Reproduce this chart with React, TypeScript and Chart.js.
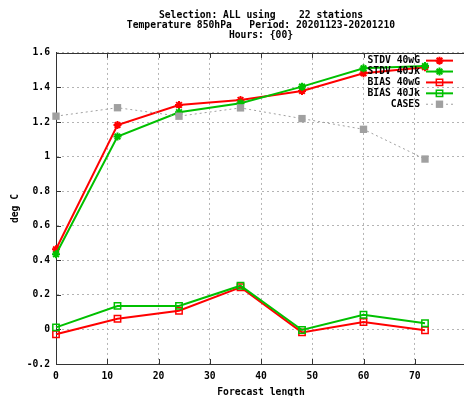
import React, { useEffect, useRef } from "react";
import { Chart, registerables } from "chart.js";
import { drawPoint } from "chart.js/helpers";

Chart.register(...registerables);

const forecastHours = [0, 12, 24, 36, 48, 60, 72];
const stdv40wG = [0.464, 1.183, 1.299, 1.328, 1.38, 1.482, 1.517];
const stdv40Jk = [0.435, 1.116, 1.257, 1.309, 1.405, 1.511, 1.524];
const bias40wG = [-0.028, 0.062, 0.108, 0.244, -0.017, 0.043, -0.005];
const bias40Jk = [0.012, 0.136, 0.136, 0.253, -0.003, 0.085, 0.036];
const cases = [1.234, 1.283, 1.234, 1.282, 1.22, 1.158, 0.986];

const seriesLabels = ["STDV 40wG", "STDV 40Jk", "BIAS 40wG", "BIAS 40Jk", "CASES"];
const titleLines = [
  "Selection: ALL using    22 stations",
  "Temperature 850hPa   Period: 20201123-20201210",
  "Hours: {00}",
];
const xTickValues = [0, 10, 20, 30, 40, 50, 60, 70];
const xTickLabels = ["0", "10", "20", "30", "40", "50", "60", "70"];
const yTickValues = [-0.2, 0, 0.2, 0.4, 0.6, 0.8, 1, 1.2, 1.4, 1.6];
const yTickLabels = ["-0.2", "0", "0.2", "0.4", "0.6", "0.8", "1", "1.2", "1.4", "1.6"];
const xAxisTitle = "Forecast length";
const yAxisTitle = "deg C";

const RED = "#ff0000";
const GREEN = "#00c000";
const GRAY = "#a0a0a0";
const GRID = "#b4b4b4";
const FAMILY = "'DejaVu Sans Mono', 'Liberation Mono', monospace";
const FSIZE = 9.7;

const toPoints = (ys: number[]) => forecastHours.map((x, i) => ({ x, y: ys[i] }));

const framePlugin = {
  id: "gnuFrame",
  beforeDatasetsDraw(chart: any) {
    const { ctx, chartArea, scales } = chart;
    const { left, right, top, bottom } = chartArea;
    const x = scales.x;
    const y = scales.y;
    ctx.save();
    ctx.strokeStyle = "#333";
    ctx.lineWidth = 1;
    ctx.setLineDash([]);
    ctx.beginPath();
    ctx.moveTo(left, Math.round(top) + 0.5);
    ctx.lineTo(right, Math.round(top) + 0.5);
    x.ticks.forEach((t: any) => {
      const px = Math.round(x.getPixelForValue(t.value)) + 0.5;
      ctx.moveTo(px, bottom);
      ctx.lineTo(px, bottom - 5);
      ctx.moveTo(px, top);
      ctx.lineTo(px, top + 5);
    });
    y.ticks.forEach((t: any) => {
      const py = Math.round(y.getPixelForValue(t.value)) + 0.5;
      ctx.moveTo(left, py);
      ctx.lineTo(left + 5, py);
    });
    ctx.stroke();
    ctx.restore();
  },
};

const keyPlugin = {
  id: "gnuKey",
  afterDatasetsDraw(chart: any) {
    const { ctx, chartArea } = chart;
    const textRight = chartArea.right - 46;
    const x1 = chartArea.right - 40;
    const x2 = chartArea.right - 13;
    const xm = (x1 + x2) / 2;
    chart.data.datasets.forEach((ds: any, i: number) => {
      const yy = chartArea.top + 7.7 + i * 10.9;
      ctx.save();
      ctx.font = `bold ${FSIZE}px ${FAMILY}`;
      ctx.fillStyle = "#000";
      ctx.textAlign = "right";
      ctx.textBaseline = "middle";
      ctx.fillText(ds.label, textRight, yy);
      ctx.strokeStyle = ds.borderColor;
      ctx.lineWidth = ds.borderWidth;
      ctx.setLineDash(ds.borderDash || []);
      ctx.beginPath();
      ctx.moveTo(x1, yy);
      ctx.lineTo(x2, yy);
      ctx.stroke();
      ctx.setLineDash([]);
      ctx.fillStyle = ds.pointBackgroundColor;
      ctx.strokeStyle = ds.pointBorderColor;
      ctx.lineWidth = ds.pointBorderWidth;
      drawPoint(
        ctx,
        {
          pointStyle: ds.pointStyle,
          rotation: 0,
          radius: ds.pointRadius,
          borderWidth: ds.pointBorderWidth,
        } as any,
        xm,
        yy
      );
      ctx.restore();
    });
  },
};

export default function App() {
  const ref = useRef<HTMLCanvasElement | null>(null);

  useEffect(() => {
    if (!ref.current) return;
    const font = { family: FAMILY, size: FSIZE, weight: "bold" as const };
    const chart = new Chart(ref.current, {
      type: "line",
      data: {
        datasets: [
          {
            label: seriesLabels[0],
            data: toPoints(stdv40wG),
            borderColor: RED,
            backgroundColor: RED,
            borderWidth: 2,
            pointStyle: "star",
            pointRadius: 4,
            pointBorderWidth: 2,
            pointBorderColor: RED,
            pointBackgroundColor: RED,
            order: 5,
            clip: false as any,
          },
          {
            label: seriesLabels[1],
            data: toPoints(stdv40Jk),
            borderColor: GREEN,
            backgroundColor: GREEN,
            borderWidth: 2,
            pointStyle: "star",
            pointRadius: 4,
            pointBorderWidth: 2,
            pointBorderColor: GREEN,
            pointBackgroundColor: GREEN,
            order: 4,
            clip: false as any,
          },
          {
            label: seriesLabels[2],
            data: toPoints(bias40wG),
            borderColor: RED,
            backgroundColor: RED,
            borderWidth: 2,
            pointStyle: "rect",
            pointRadius: 4.5,
            pointBorderWidth: 1.5,
            pointBorderColor: RED,
            pointBackgroundColor: "rgba(0,0,0,0)",
            order: 3,
            clip: false as any,
          },
          {
            label: seriesLabels[3],
            data: toPoints(bias40Jk),
            borderColor: GREEN,
            backgroundColor: GREEN,
            borderWidth: 2,
            pointStyle: "rect",
            pointRadius: 4.5,
            pointBorderWidth: 1.5,
            pointBorderColor: GREEN,
            pointBackgroundColor: "rgba(0,0,0,0)",
            order: 2,
            clip: false as any,
          },
          {
            label: seriesLabels[4],
            data: toPoints(cases),
            borderColor: GRAY,
            backgroundColor: GRAY,
            borderWidth: 1,
            borderDash: [2, 3],
            pointStyle: "rect",
            pointRadius: 5.2,
            pointBorderWidth: 0,
            pointBorderColor: GRAY,
            pointBackgroundColor: GRAY,
            order: 1,
            clip: false as any,
          },
        ] as any,
      },
      options: {
        animation: false,
        responsive: false,
        layout: { padding: 0 },
        plugins: {
          legend: { display: false },
          tooltip: { enabled: false },
          title: {
            display: true,
            fullSize: false,
            text: titleLines,
            color: "#000",
            font: { ...font, lineHeight: 1.07 },
            padding: { top: 9.8, bottom: 12 },
          },
        },
        scales: {
          x: {
            type: "linear",
            min: 0,
            max: 80,
            afterBuildTicks: (s: any) => {
              s.ticks = xTickValues.map((v) => ({ value: v }));
            },
            afterFit: (s: any) => {
              s.height = 32;
            },
            ticks: {
              padding: 7,
              maxRotation: 0,
              autoSkip: false,
              color: "#000",
              font,
              callback: (_v: any, i: number) => xTickLabels[i],
            },
            grid: { color: GRID, drawTicks: false, lineWidth: 1 },
            border: { display: true, color: "#333", width: 1, dash: [2, 3] },
            title: {
              display: true,
              text: xAxisTitle,
              color: "#000",
              font: { ...font, lineHeight: 0.8 },
              padding: 0,
            },
          },
          y: {
            type: "linear",
            min: -0.2,
            max: 1.6,
            afterBuildTicks: (s: any) => {
              s.ticks = yTickValues.map((v) => ({ value: v }));
            },
            afterFit: (s: any) => {
              s.width = 56;
            },
            ticks: {
              padding: 6,
              autoSkip: false,
              color: "#000",
              font,
              callback: (_v: any, i: number) => yTickLabels[i],
            },
            grid: { color: GRID, drawTicks: false, lineWidth: 1 },
            border: { display: true, color: "#333", width: 1, dash: [2, 3] },
            title: {
              display: true,
              text: yAxisTitle,
              color: "#000",
              font: { ...font, lineHeight: 1.07 },
              padding: { top: 10, bottom: 0 },
            },
          },
        },
      } as any,
      plugins: [framePlugin, keyPlugin],
    });
    return () => chart.destroy();
  }, []);

  return (
    <div
      style={{
        position: "absolute",
        left: 0,
        top: 0,
        width: 464,
        height: 396,
        overflow: "hidden",
        background: "#fff",
      }}
    >
      <canvas ref={ref} width={472} height={396} style={{ display: "block" }} />
    </div>
  );
}
